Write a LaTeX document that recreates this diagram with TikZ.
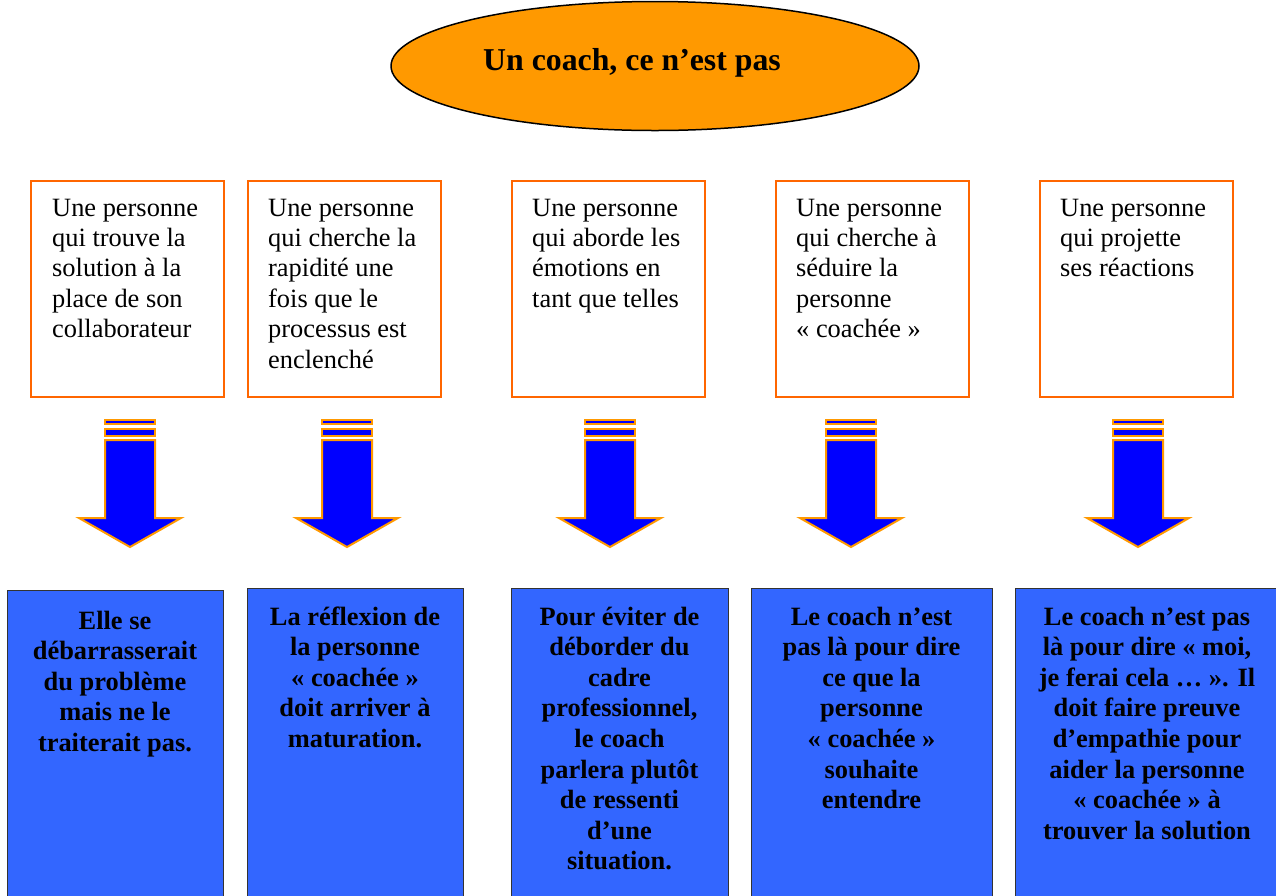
\documentclass[tikz,border=0pt]{standalone}
\usepackage{fontspec}
\setmainfont{Liberation Serif}
\usetikzlibrary{shapes.geometric}
\definecolor{orfill}{HTML}{FF9900}
\definecolor{boxorange}{HTML}{FF6600}
\definecolor{arrowblue}{HTML}{0000FF}
\definecolor{boxblue}{HTML}{3366FF}
\begin{document}
\begin{tikzpicture}[x=1pt,y=-1pt,
  topbox/.style={draw=boxorange, line width=1.5pt, fill=white, rectangle, inner sep=0pt, minimum width=193pt, minimum height=216pt, anchor=north west},
  toptext/.style={anchor=base west, inner sep=0pt, align=left, font=\fontsize{26.4pt}{30.4pt}\selectfont},
  botbox/.style={draw=black!80, line width=1.2pt, fill=boxblue, rectangle, anchor=north west, inner sep=0pt, minimum height=320pt},
  bottext/.style={anchor=base, inner sep=0pt, align=center, font=\bfseries\fontsize{26.4pt}{30.6pt}\selectfont},
  arrowpart/.style={fill=arrowblue, draw=orfill, line width=2pt, line join=miter},
  blockarrow/.pic={
    \path[arrowpart] (-25,1) rectangle (25,5);
    \path[arrowpart] (-25,10) rectangle (25,17);
    \path[arrowpart] (-25,21) -- (-25,99) -- (-51,99) -- (0,128) -- (51,99) -- (25,99) -- (25,21) -- cycle;
  }]
\useasboundingbox (0,0) rectangle (1276,895);

% title ellipse
\node[ellipse, draw=black, line width=1.5pt, fill=orfill, minimum width=528pt, minimum height=129pt, inner sep=0pt] (title) at (655,66) {};
\node[anchor=base, inner sep=0pt, font=\bfseries\fontsize{31.8pt}{36pt}\selectfont] (titletext) at (632,70) {Un coach, ce n’est pas};

% top boxes
\node[topbox] (t1) at (30,180) {};
\node[topbox] (t2) at (247,180) {};
\node[topbox] (t3) at (511,180) {};
\node[topbox] (t4) at (775,180) {};
\node[topbox] (t5) at (1039,180) {};

% (base anchor = last line baseline; first baseline at 216)
\node[toptext] (tt1) at (52,337.6) {Une personne\\qui trouve la\\solution à la\\place de son\\collaborateur};
\node[toptext] (tt2) at (268,368) {Une personne\\qui cherche la\\rapidité une\\fois que le\\processus est\\enclenché};
\node[toptext] (tt3) at (532,307.2) {Une personne\\qui aborde les\\émotions en\\tant que telles};
\node[toptext] (tt4) at (796,337.6) {Une personne\\qui cherche à\\séduire la\\personne\\« coachée »};
\node[toptext] (tt5) at (1060,276.8) {Une personne\\qui projette\\ses réactions};

% block arrows
\pic at (130,419) {blockarrow};
\pic at (347,419) {blockarrow};
\pic at (610,419) {blockarrow};
\pic at (851,419) {blockarrow};
\pic at (1138,419) {blockarrow};

% bottom boxes
\node[botbox, minimum width=216pt] (b1) at (7,590) {};
\node[botbox, minimum width=216pt] (b2) at (247,588) {};
\node[botbox, minimum width=217pt] (b3) at (511,588) {};
\node[botbox, minimum width=241pt] (b4) at (751,588) {};
\node[botbox, minimum width=267pt] (b5) at (1015,588) {};

\node[bottext] (bt1) at (115,751.4) {Elle se\\débarrasserait\\du problème\\mais ne le\\traiterait pas.};
\node[bottext] (bt2) at (355,747.4) {La réflexion de\\la personne\\« coachée »\\doit arriver à\\maturation.};
\node[bottext] (bt3) at (619.5,869.8) {Pour éviter de\\déborder du\\cadre\\professionnel,\\le coach\\parlera plutôt\\de ressenti\\d’une\\situation.};
\node[bottext] (bt4) at (871.5,808.6) {Le coach n’est\\pas là pour dire\\ce que la\\personne\\« coachée »\\souhaite\\entendre};
\node[bottext] (bt5) at (1147,839.2) {Le coach n’est pas\\là pour dire « moi,\\je ferai cela … ». Il\\doit faire preuve\\d’empathie pour\\aider la personne\\« coachée » à\\trouver la solution};
\end{tikzpicture}
\end{document}
